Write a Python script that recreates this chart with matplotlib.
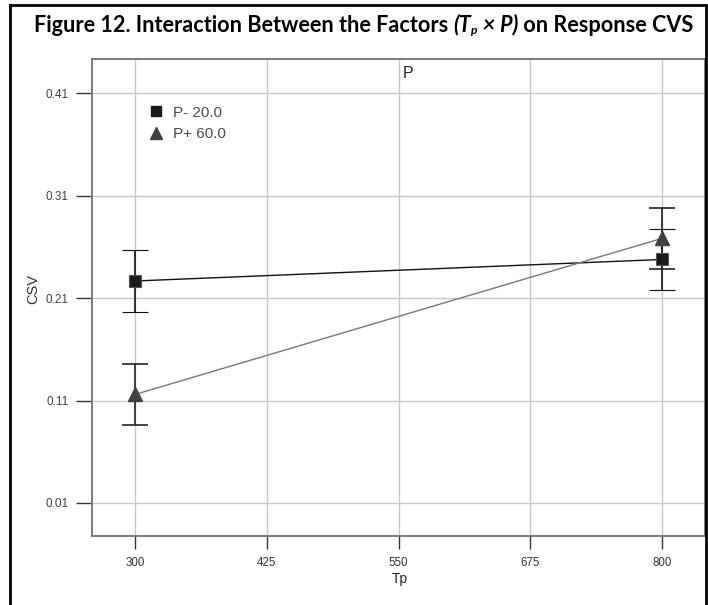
import matplotlib
matplotlib.use("Agg")
import matplotlib.pyplot as plt
from matplotlib.lines import Line2D

# data
tp = [300, 800]
p_low = [0.2266, 0.2476]    # P- 20.0
p_high = [0.1159, 0.2682]   # P+ 60.0
err_low = [0.0298, 0.0298]
err_high = [0.0297, 0.0297]
xticks = [300, 425, 550, 675, 800]
yticks = [0.01, 0.11, 0.21, 0.31, 0.41]
labels = ["P- 20.0", "P+ 60.0"]

W, H = 708, 605
fig = plt.figure(figsize=(W / 100, H / 100), dpi=100)
ax = fig.add_axes([92 / W, 69 / H, 613 / W, 477 / H])

ax.set_xlim(259.2, 840.8)
ax.set_ylim(-0.0222, 0.4432)
ax.set_xticks(xticks)
ax.set_yticks(yticks)
ax.set_xticklabels([str(v) for v in xticks], family="Liberation Sans",
                   fontsize=8.3, color="#333333")
ax.set_yticklabels(["%.2f" % v for v in yticks], family="Liberation Sans",
                   fontsize=8.5, color="#404040")
ax.grid(True, color="#c8c8c8", lw=1)
ax.set_axisbelow(True)
for s in ax.spines.values():
    s.set_color("#7a7a7a")
    s.set_linewidth(1.4)
ax.tick_params(axis="y", length=11.5, width=1, color="#333333", pad=5.5)
ax.tick_params(axis="x", length=9.4, width=1, color="#333333", pad=6)

# lines
ax.plot(tp, p_low, color="#111111", lw=1.0, zorder=3)
ax.plot(tp, p_high, color="#777777", lw=1.0, zorder=3)

# error bars
e1 = ax.errorbar(tp, p_low, yerr=err_low, fmt="s", ms=9.0, mfc="#1a1a1a", mec="#555555",
                 mew=0.8, ecolor="#111111", elinewidth=1.2, capsize=9.4, capthick=1.2, zorder=4)
e2 = ax.errorbar(tp, p_high, yerr=err_high, fmt="^", ms=10.5, mfc="#404040", mec="#404040",
                 ecolor="#222222", elinewidth=1.2, capsize=9.4, capthick=1.2, zorder=4)
for c in e2[1]:
    c.set_color("#555555")

handles = [Line2D([], [], ls="", marker="s", ms=7.5, mfc="#1a1a1a", mec="#1a1a1a"),
           Line2D([], [], ls="", marker="^", ms=8.5, mfc="#404040", mec="#404040")]
leg = ax.legend(handles, labels, loc="upper left", bbox_to_anchor=(0.0816, 0.918), frameon=False,
                handlelength=0.8, handletextpad=0.72, labelspacing=0.5,
                borderpad=0, prop={"family": "Liberation Sans", "size": 11})
for t in leg.get_texts():
    t.set_color("#4a4a4a")

ax.text(0.515, 0.97, "P", transform=ax.transAxes, ha="center", va="center",
        fontsize=11.5, family="Liberation Sans", color="#222222")

fig.text(33 / W, 1 - 289 / H, "CSV", rotation=90, ha="center", va="center",
         fontsize=10.5, family="Liberation Sans", color="#333333")
fig.text(400 / W, 1 - 579 / H, "Tp", ha="center", va="center",
         fontsize=10, family="Liberation Sans", color="#222222")

# title, drawn piece by piece
fig.canvas.draw()
r = fig.canvas.get_renderer()
fs = 15.6
ty = 1 - 25 / H
pieces = [("Figure 12. Interaction Between the Factors ", "normal", fs, 0),
          ("(T", "italic", fs, 0),
          ("p", "italic", fs * 0.55, -5),
          (" \u00d7 P)", "italic", fs, 0),
          (" on Response CVS", "normal", fs, 0)]
x = 34 / W
for txt, style, size, dy in pieces:
    t = fig.text(x, ty + dy / H, txt, ha="left", va="center", fontsize=size, style=style,
                 weight="bold", family=["Lato", "DejaVu Sans"])
    bb = t.get_window_extent(renderer=r)
    x += bb.width / W

# frame round the figure
lw = 2
fig.add_artist(Line2D([10 / W, 10 / W], [0, 1 - 5 / H], color="black", lw=lw))
fig.add_artist(Line2D([10 / W, 706 / W], [1 - 5 / H, 1 - 5 / H], color="black", lw=lw))
fig.add_artist(Line2D([706 / W, 706 / W], [0, 1 - 5 / H], color="black", lw=lw))

fig.savefig("out.png", dpi=100)
